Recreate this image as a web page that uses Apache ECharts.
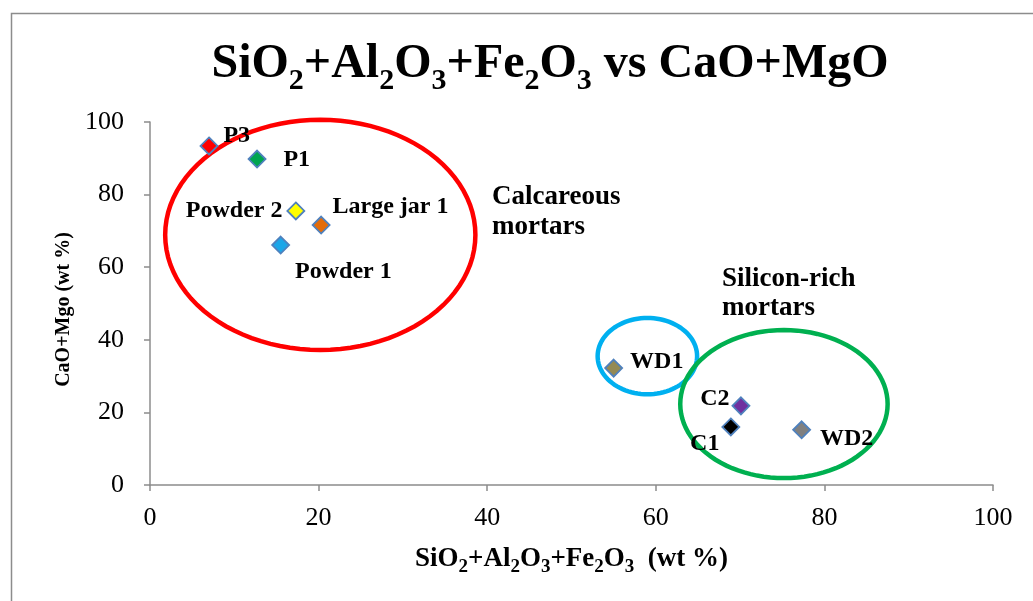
<!DOCTYPE html>
<html>
<head>
<meta charset="utf-8">
<script src="https://cdn.jsdelivr.net/npm/echarts@6/dist/echarts.min.js"></script>
<style>
  html, body { margin: 0; padding: 0; background: #fff; }
  #chart { width: 1033px; height: 601px; }
</style>
</head>
<body>
<div id="chart"></div>
<script>
// sample names and compositions (wt %)
const samples = ['P3', 'P1', 'Powder 2', 'Large jar 1', 'Powder 1', 'WD1', 'C2', 'C1', 'WD2'];
const silicaSum = [7.0, 12.7, 17.3, 20.3, 15.5, 55.0, 70.1, 68.9, 77.3];
const limeSum = [93.4, 89.8, 75.5, 71.6, 66.1, 32.2, 21.8, 16.0, 15.2];
const xTicks = [0, 20, 40, 60, 80, 100];
const yTicks = [0, 20, 40, 60, 80, 100];

// group outlines: centre x, centre y, half width, half height (axis units)
const groups = [
  [20.2, 68.9, 18.4, 31.7],
  [59.0, 35.5, 5.9, 10.5],
  [75.2, 22.3, 12.3, 20.4]
];
const groupColors = ['#ff0000', '#00b0f0', '#00b050'];

// marker fills and label placement
const fills = ['#ff0000', '#00a550', '#ffff00', '#e36c0a', '#1ca6e8', '#948a54', '#7030a0', '#000000', '#808080'];
const labelPlace = [
  { position: 'right', distance: 5, offset: [0, -10] },
  { position: 'right', distance: 17, offset: [0, 1] },
  { position: 'left', distance: 4, offset: [0, 0] },
  { position: 'right', distance: 2, offset: [0, -18] },
  { position: 'right', distance: 5, offset: [0, 27] },
  { position: 'right', distance: 7, offset: [0, -6] },
  { position: 'left', distance: 2, offset: [0, -7] },
  { position: 'left', distance: 6, offset: [4, 17] },
  { position: 'right', distance: 9, offset: [0, 9] }
];

const serif = '"Liberation Serif", "DejaVu Serif", serif';

const chart = echarts.init(document.getElementById('chart'));

const pointData = samples.map((n, i) => ({
  name: n,
  value: [silicaSum[i], limeSum[i]],
  itemStyle: { color: fills[i] },
  label: labelPlace[i]
}));

const option = {
  animation: false,
  title: {
    text: '{m|SiO}{s|2}{m|+Al}{s|2}{m|O}{s|3}{m|+Fe}{s|2}{m|O}{s|3}{m| vs CaO+MgO}',
    left: 545,
    top: 36,
    textAlign: 'center',
    textStyle: {
      rich: {
        m: { fontFamily: serif, fontWeight: 'bold', fontSize: 48, color: '#000', verticalAlign: 'top', lineHeight: 50 },
        s: { fontFamily: serif, fontWeight: 'bold', fontSize: 30, color: '#000', verticalAlign: 'top', lineHeight: 30, padding: [25, 0, 0, 0] }
      }
    }
  },
  graphic: [
    { type: 'rect', left: 9, top: 11, shape: { width: 1100, height: 700 }, style: { fill: 'none', stroke: '#8c8c8c', lineWidth: 1.5 }, silent: true },
    { type: 'text', left: 492, top: 182, style: { text: 'Calcareous\nmortars', font: 'bold 27px ' + serif, fill: '#000', lineHeight: 30 } },
    { type: 'text', left: 722, top: 265, style: { text: 'Silicon-rich\nmortars', font: 'bold 27px ' + serif, fill: '#000', lineHeight: 29 } }
  ],
  grid: { left: 150, right: 40, top: 122, bottom: 116 },
  xAxis: {
    type: 'value',
    min: 0, max: 100, interval: 20,
    name: '{m|SiO}{s|2}{m|+Al}{s|2}{m|O}{s|3}{m|+Fe}{s|2}{m|O}{s|3}{m|  (wt %)}',
    nameLocation: 'middle',
    nameGap: 61,
    nameTextStyle: {
      rich: {
        m: { fontFamily: serif, fontWeight: 'bold', fontSize: 27, color: '#000', verticalAlign: 'top', lineHeight: 28 },
        s: { fontFamily: serif, fontWeight: 'bold', fontSize: 19, color: '#000', verticalAlign: 'top', lineHeight: 19, padding: [12, 0, 0, 0] }
      }
    },
    axisLine: { show: true, onZero: false, lineStyle: { color: '#8c8c8c', width: 1.5 } },
    axisTick: { show: true, inside: false, length: 6, lineStyle: { color: '#8c8c8c', width: 1.5 } },
    axisLabel: { fontFamily: serif, fontSize: 26, color: '#000', margin: 20, formatter: v => xTicks.includes(v) ? String(v) : '' },
    splitLine: { show: false }
  },
  yAxis: {
    type: 'value',
    min: 0, max: 100, interval: 20,
    name: 'CaO+Mgo (wt %)',
    nameLocation: 'middle',
    nameGap: 62,
    nameTextStyle: { fontFamily: serif, fontWeight: 'bold', fontSize: 20, color: '#000', padding: [0, 12, 0, 0] },
    axisLine: { show: true, onZero: false, lineStyle: { color: '#8c8c8c', width: 1.5 } },
    axisTick: { show: true, inside: false, length: 6, lineStyle: { color: '#8c8c8c', width: 1.5 } },
    axisLabel: { fontFamily: serif, fontSize: 26, color: '#000', margin: 26, formatter: v => yTicks.includes(v) ? String(v) : '' },
    splitLine: { show: false }
  },
  series: [
    {
      type: 'custom',
      silent: true,
      z: 1,
      data: groups,
      renderItem: function (params, api) {
        const c = api.coord([api.value(0), api.value(1)]);
        const sz = api.size([api.value(2), api.value(3)]);
        const pts = [];
        for (let k = 0; k < 96; k++) {
          const a = k / 96 * Math.PI * 2;
          pts.push([c[0] + sz[0] * Math.cos(a), c[1] + sz[1] * Math.sin(a)]);
        }
        return {
          type: 'polygon',
          shape: { points: pts },
          style: { fill: 'none', stroke: groupColors[params.dataIndex], lineWidth: 4.5 }
        };
      }
    },
    {
      type: 'scatter',
      z: 3,
      symbol: 'diamond',
      symbolSize: 17,
      itemStyle: { borderColor: '#4f81bd', borderWidth: 1.8, opacity: 1 },
      label: {
        show: true,
        formatter: '{b}',
        fontFamily: serif,
        fontWeight: 'bold',
        fontSize: 24,
        color: '#000'
      },
      data: pointData
    }
  ]
};

chart.setOption(option);
</script>
</body>
</html>
